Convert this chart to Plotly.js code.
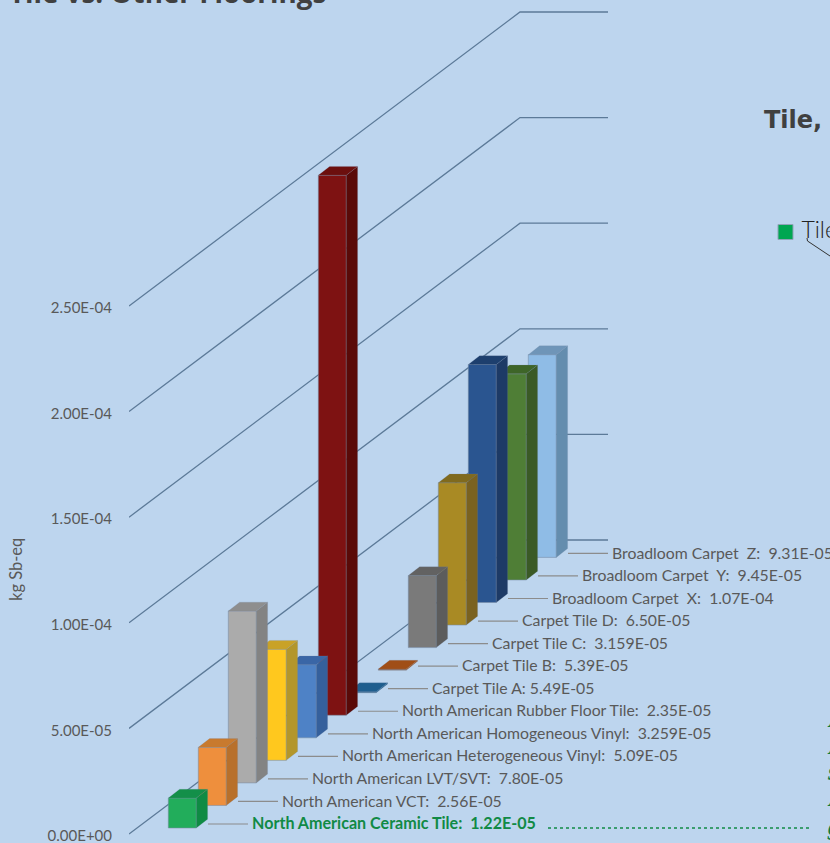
<!DOCTYPE html>
<html><head><meta charset="utf-8">
<script src="https://cdn.plot.ly/plotly-3.0.1.min.js"></script>
<style>html,body{margin:0;padding:0;background:#BDD5EE;overflow:hidden}#c{width:830px;height:843px}</style>
</head><body><div id="c"></div>
<script>
// ---- data ----
const categories = ["North American Ceramic Tile","North American VCT","North American LVT/SVT","North American Heterogeneous Vinyl","North American Homogeneous Vinyl","North American Rubber Floor Tile","Carpet Tile A","Carpet Tile B","Carpet Tile C","Carpet Tile D","Broadloom Carpet X","Broadloom Carpet Y","Broadloom Carpet Z"];
const drawnValues = [1.42e-5,2.75e-5,8.14e-5,5.26e-5,3.46e-5,2.557e-4,5e-7,5e-7,3.41e-5,6.74e-5,1.127e-4,9.76e-5,9.6e-5];
const valueLabels = ["North American Ceramic Tile:  1.22E-05","North American VCT:  2.56E-05","North American LVT/SVT:  7.80E-05","North American Heterogeneous Vinyl:  5.09E-05","North American Homogeneous Vinyl:  3.259E-05","North American Rubber Floor Tile:  2.35E-05","Carpet Tile A: 5.49E-05","Carpet Tile B:  5.39E-05","Carpet Tile C:  3.159E-05","Carpet Tile D:  6.50E-05","Broadloom Carpet  X:  1.07E-04","Broadloom Carpet  Y:  9.45E-05","Broadloom Carpet  Z:  9.31E-05"];
const axisTickValues = [0,5e-5,1e-4,1.5e-4,2e-4,2.5e-4];
const axisTickLabels = ["0.00E+00","5.00E-05","1.00E-04","1.50E-04","2.00E-04","2.50E-04"];
const frontColors = ["#22AD5B","#EE8F3D","#ABABAB","#FFC81E","#4E82C6","#7E1212","#1F5E8E","#A04E17","#7A7A7A","#A98A24","#2A5590","#4F7E36","#8FBCE6"];
const sideColors  = ["#0F8B44","#B8702B","#838383","#B3962B","#35609C","#5A0A08","#1F5E8E","#A04E17","#5C5C5C","#7A6220","#1D3A66","#3A5A26","#648DAE"];
const topColors   = ["#138F49","#C87A2E","#8E8E8E","#C9A227","#3A66A6","#6C0F0E","#1F5E8E","#A04E17","#626262","#806A1E","#1D3F6E","#3E6528","#6F95B8"];

// ---- geometry of the oblique projection ----
const W=830,H=843,LEFT=129,ZERO_PX=834,PER_VALUE=105.6/5e-5;
const xOf=px=>(px-168.3)/30, yOf=py=>(ZERO_PX-py)/PER_VALUE;
const barW=28/30, depthX=11.3/30, depthY=8.8/PER_VALUE;
const base=i=>yOf(828-22.55*i);
const GREY="#595959", GREEN="#118A45", FONT="Lato, 'Open Sans', sans-serif";

const traces=[];
// bars: fronts are real bars; the sides and tops are filled outlines from the same values
categories.forEach((c,i)=>traces.push({type:"bar",name:c,x:[i+barW/2],y:[drawnValues[i]],base:[base(i)],width:[barW],
  marker:{color:frontColors[i],line:{color:"rgba(120,140,165,0.55)",width:1}},hoverinfo:"name+y",showlegend:false}));
for(let i=categories.length-1;i>=0;i--){
  const l=i,r=i+barW,b=base(i),t=b+drawnValues[i];
  traces.push({type:"scatter",mode:"lines",x:[r,r+depthX,r+depthX,r,r],y:[b,b+depthY,t+depthY,t,b],fill:"toself",fillcolor:sideColors[i],
    line:{color:"rgba(120,140,165,0.3)",width:0.6},hoverinfo:"skip",showlegend:false,cliponaxis:false});
  traces.push({type:"scatter",mode:"lines",x:[l,l+depthX,r+depthX,r,l],y:[t,t+depthY,t+depthY,t,t],fill:"toself",fillcolor:topColors[i],
    line:{color:"rgba(120,140,165,0.3)",width:0.6},hoverinfo:"skip",showlegend:false,cliponaxis:false});
}
// leader lines and value labels
const leadX=[],leadY=[],txtX=[],txtY=[];
categories.forEach((c,i)=>{
  const py=824-22.55*i, x0=208+30*i;
  leadX.push(xOf(x0),xOf(x0+40),null); leadY.push(yOf(py),yOf(py),null);
  txtX.push(xOf(x0+44)); txtY.push(yOf(py+1.2));
});
traces.push({type:"scatter",mode:"lines",x:leadX,y:leadY,line:{color:"#8C8C8C",width:1.2},hoverinfo:"skip",showlegend:false,cliponaxis:false});
traces.push({type:"scatter",mode:"text",x:txtX,y:txtY,text:valueLabels.map((t,i)=>i===0?"<b>"+t+"</b>":t),textposition:"middle right",
  textfont:{family:FONT,size:valueLabels.map((t,i)=>i===0?16.1:15.8),color:valueLabels.map((t,i)=>i===0?GREEN:GREY)},hoverinfo:"skip",showlegend:false,cliponaxis:false});
// cropped legend swatch
traces.push({type:"scatter",mode:"markers+text",x:[xOf(785.5)],y:[yOf(232)],text:[" Tile"],textposition:"middle right",
  marker:{symbol:"square",size:15,color:"#00A651",line:{color:"#8FA3B8",width:1}},
  textfont:{family:"Lato, sans-serif",size:23,weight:300,color:"#222222"},hoverinfo:"skip",showlegend:false,cliponaxis:false});

const gridShapes=axisTickValues.map(v=>({type:"path",layer:"below",xref:"x",yref:"y",
  path:`M ${xOf(LEFT)} ${v} L ${xOf(520)} ${v+yOf(ZERO_PX-294)} L ${xOf(608)} ${v+yOf(ZERO_PX-294)}`,
  line:{color:"#5C7A98",width:1.3}}));
gridShapes.push({type:"line",layer:"above",xref:"x",yref:"y",x0:xOf(548),x1:xOf(812),y0:yOf(828),y1:yOf(828),line:{color:GREEN,width:1.5,dash:"dot"}});
gridShapes.push({type:"path",layer:"above",xref:"x",yref:"y",
  path:`M ${xOf(807)} ${yOf(238)} L ${xOf(807.5)} ${yOf(241)} L ${xOf(830)} ${yOf(256)}`,line:{color:"#333333",width:1}});

const scrap=(t,y)=>({xref:"paper",yref:"paper",x:(825-LEFT)/(W-LEFT),y:1-y/H,text:"<b><i>"+t+"</i></b>",showarrow:false,xanchor:"left",yanchor:"middle",
  font:{family:"'Liberation Serif', serif",size:26,color:"#0F7A40"}});
const annotations=[
  {xref:"paper",yref:"paper",x:(16-LEFT)/(W-LEFT),y:1-570/H,text:"kg Sb-eq",textangle:-90,showarrow:false,xanchor:"center",yanchor:"middle",font:{family:FONT,size:16.5,color:GREY}},
  {xref:"paper",yref:"paper",x:(762-LEFT)/(W-LEFT),y:1-120/H,text:"<b>Tile,</b>",showarrow:false,xanchor:"left",yanchor:"middle",font:{family:"'DejaVu Sans', sans-serif",size:24,color:"#404040"}}
];
[["A",718],["A",745],["s",771],["A",797],["g",826]].forEach(([t,y])=>annotations.push(scrap(t,y)));

Plotly.newPlot("c",traces,{
  width:W,height:H,margin:{l:LEFT,r:0,t:0,b:0,pad:0},paper_bgcolor:"#BDD5EE",plot_bgcolor:"#BDD5EE",
  title:{text:"<b>Tile vs. Other Floorings</b>",x:9/W,xanchor:"left",y:1,yanchor:"top",pad:{t:-16.5},font:{family:"'Open Sans', sans-serif",size:27.8,color:"#404040"}},
  barmode:"overlay",showlegend:false,
  xaxis:{range:[xOf(LEFT),xOf(W)],visible:false,fixedrange:true},
  yaxis:{range:[yOf(H),yOf(0)],tickmode:"array",tickvals:axisTickValues,ticktext:axisTickLabels,showgrid:false,zeroline:false,showline:false,
    ticks:"outside",ticklen:13,tickcolor:"rgba(0,0,0,0)",ticklabelshift:2,ticklabeloverflow:"allow",tickfont:{family:FONT,size:15,color:GREY},fixedrange:true},
  shapes:gridShapes,annotations:annotations
},{displayModeBar:false,staticPlot:true});
</script></body></html>
